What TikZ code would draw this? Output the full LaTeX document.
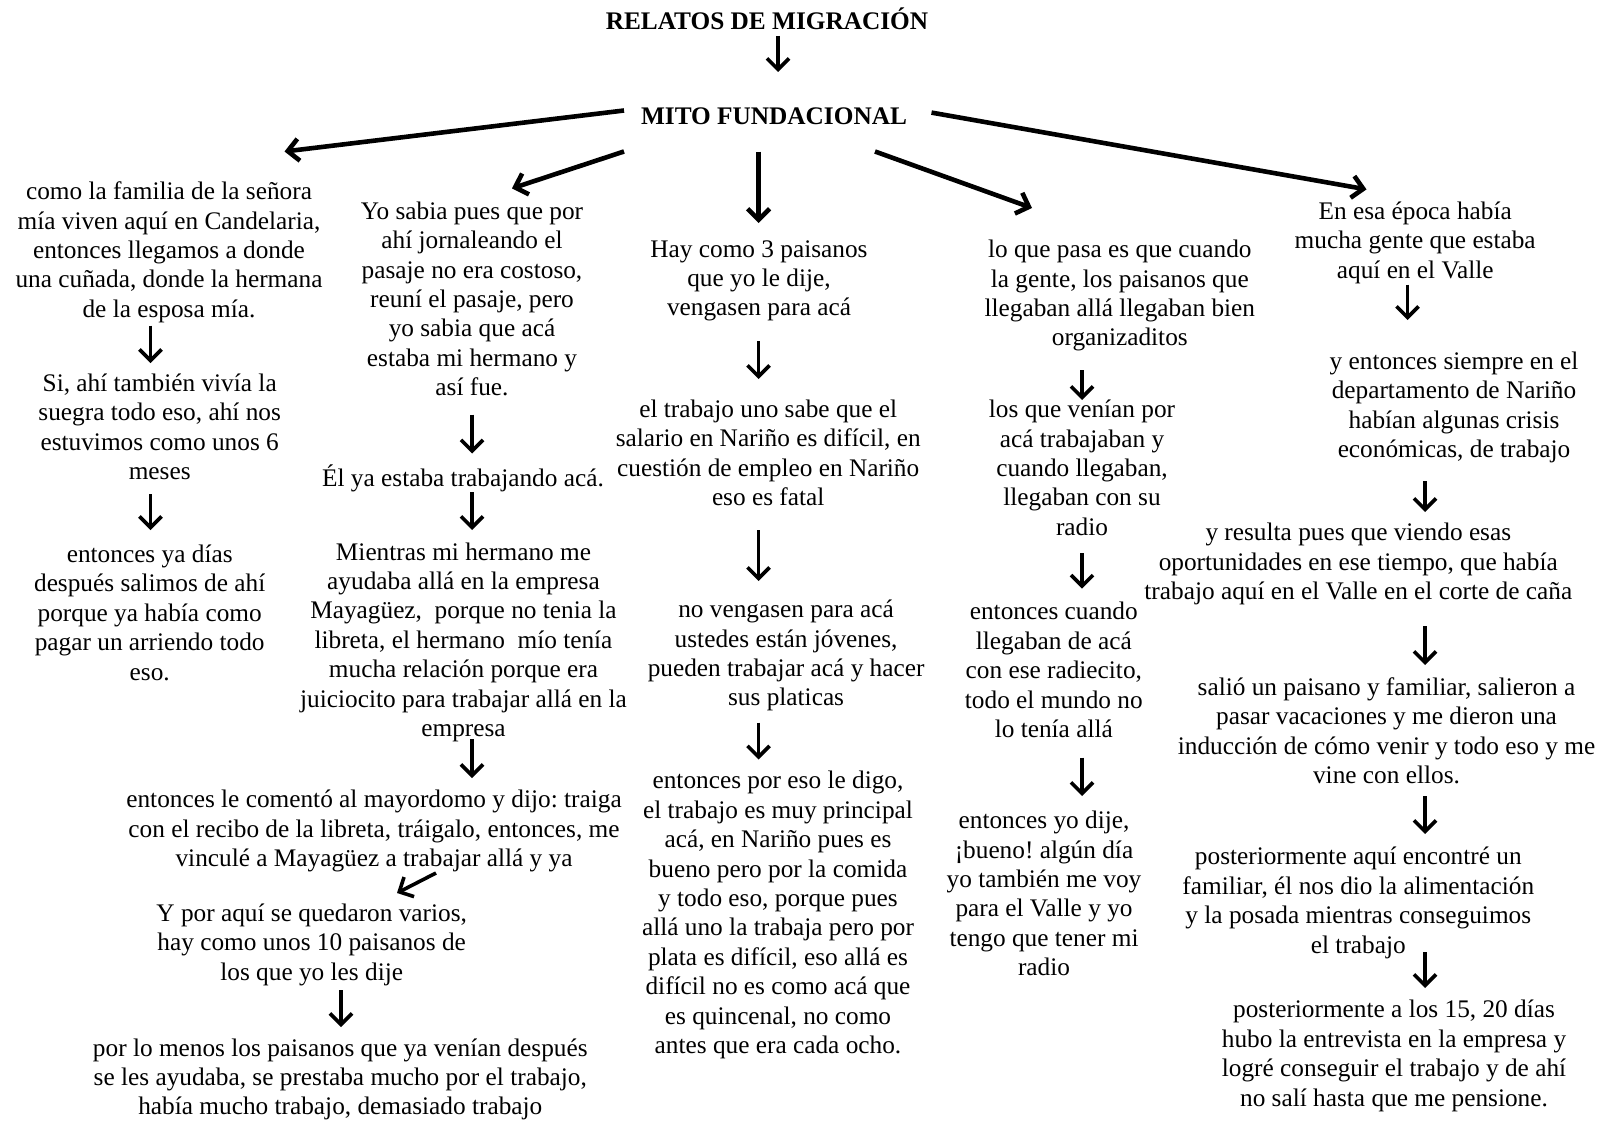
\documentclass[tikz,border=0pt]{standalone}
\usepackage{fontspec}
\setmainfont{Liberation Serif}
\usetikzlibrary{arrows.meta}
\begin{document}
\frenchspacing
\begin{tikzpicture}[x=1pt,y=-1pt,
  txt/.style={inner sep=0pt,align=center,font=\fontsize{25.3}{29.4}\selectfont},
  head/.style={txt,font=\fontsize{25.3}{29.4}\selectfont\bfseries},
  arr/.style={line width=3.6pt,-{Straight Barb[length=11pt,width=22pt]}},
  longarr/.style={arr,line width=4.6pt}]
\fill[white] (0,0) rectangle (1605,1121);
\useasboundingbox (0,0) rectangle (1605,1121);

% headings
\node[head] (T) at (767,19) {RELATOS DE MIGRACIÓN};
\node[head] (M) at (774,116.7) {MITO FUNDACIONAL};

% first column
\node[txt] (c1a) at (169,252.3) {como la familia de la señora\\mía viven aquí en Candelaria,\\entonces llegamos a donde\\una cuñada, donde la hermana\\de la esposa mía.};
\node[txt] (c1b) at (159.7,426.8) {Si, ahí también vivía la\\suegra todo eso, ahí nos\\estuvimos como unos 6\\meses};
\node[txt] (c1c) at (149.7,612.6) {entonces ya días\\después salimos de ahí\\porque ya había como\\pagar un arriendo todo\\eso.};

% second column
\node[txt] (c2a) at (472,298.9) {Yo sabia pues que por\\ahí jornaleando el\\pasaje no era costoso,\\reuní el pasaje, pero\\yo sabia que acá\\estaba mi hermano y\\así fue.};
\node[txt] (c2b) at (463,478) {Él ya estaba trabajando acá.};
\node[txt] (c2c) at (463.5,642.3) {Mientras mi hermano me\\ayudaba allá en la empresa\\Mayagüez,\ \ porque no tenia la\\libreta, el hermano\ \ mío tenía\\mucha relación porque era\\juiciocito para trabajar allá en la\\empresa};
\node[txt] (c2d) at (374,831.2) {entonces le comentó al mayordomo y dijo: traiga\\con el recibo de la libreta, tráigalo, entonces, me\\vinculé a Mayagüez a trabajar allá y ya};
\node[txt] (c2e) at (311.7,944.8) {Y por aquí se quedaron varios,\\hay como unos 10 paisanos de\\los que yo les dije};
\node[txt] (c2f) at (340.3,1079.4) {por lo menos los paisanos que ya venían después\\se les ayudaba, se prestaba mucho por el trabajo,\\había mucho trabajo, demasiado trabajo};

% third column
\node[txt] (c3a) at (759,280.9) {Hay como 3 paisanos\\que yo le dije,\\vengasen para acá};
\node[txt] (c3b) at (768.2,453) {el trabajo uno sabe que el\\salario en Nariño es difícil, en\\cuestión de empleo en Nariño\\eso es fatal};
\node[txt] (c3c) at (786.1,655.6) {no vengasen para acá\\ustedes están jóvenes,\\pueden trabajar acá y hacer\\sus platicas};
\node[txt] (c3d) at (778,915.1) {entonces por eso le digo,\\el trabajo es muy principal\\acá, en Nariño pues es\\bueno pero por la comida\\y todo eso, porque pues\\allá uno la trabaja pero por\\plata es difícil, eso allá es\\difícil no es como acá que\\es quincenal, no como\\antes que era cada ocho.};

% fourth column
\node[txt] (c4a) at (1119.8,295.8) {lo que pasa es que cuando\\la gente, los paisanos que\\llegaban allá llegaban bien\\organizaditos};
\node[txt] (c4b) at (1082,467.8) {los que venían por\\acá trabajaban y\\cuando llegaban,\\llegaban con su\\radio};
\node[txt] (c4c) at (1053.8,670) {entonces cuando\\llegaban de acá\\con ese radiecito,\\todo el mundo no\\lo tenía allá};
\node[txt] (c4d) at (1044,893.6) {entonces yo dije,\\¡bueno! algún día\\yo también me voy\\para el Valle y yo\\tengo que tener mi\\radio};

% fifth column
\node[txt] (c5a) at (1415.2,242.5) {En esa época había\\mucha gente que estaba\\aquí en el Valle};
\node[txt] (c5b) at (1454,407.4) {y entonces siempre en el\\departamento de Nariño\\habían algunas crisis\\económicas, de trabajo};
\node[txt] (c5c) at (1358.3,564) {y resulta pues que viendo esas\\oportunidades en ese tiempo, que había\\trabajo aquí en el Valle en el corte de caña};
\node[txt] (c5d) at (1386.5,730.9) {salió un paisano y familiar, salieron a\\pasar vacaciones y me dieron una\\inducción de cómo venir y todo eso y me\\vine con ellos.};
\node[txt] (c5e) at (1358.3,902.8) {posteriormente aquí encontré un\\familiar, él nos dio la alimentación\\y la posada mientras conseguimos\\el trabajo};
\node[txt] (c5f) at (1394,1055.8) {posteriormente a los 15, 20 días\\hubo la entrevista en la empresa y\\logré conseguir el trabajo y de ahí\\no salí hasta que me pensione.};

% connectors from the headings
\draw[arr] ([shift={(11,17)}]T.center) -- ([shift={(4,-44.7)}]M.center);
\draw[longarr] ([shift={(-150,-6.2)}]M.center) -- ([shift={(115.5,-100.8)}]c1a.center);
\draw[longarr] ([shift={(-150,34.8)}]M.center) -- ([shift={(40,-110.5)}]c2a.center);
\draw[longarr] ([shift={(-15.5,34.8)}]M.center) -- ([shift={(-0.5,-57.9)}]c3a.center);
\draw[longarr] ([shift={(101,34.8)}]M.center) -- ([shift={(-87.8,-87.8)}]c4a.center);
\draw[longarr] ([shift={(157.5,-4.1)}]M.center) -- ([shift={(-48.7,-53.1)}]c5a.center);

% first column
\draw[arr] ([shift={(-18.5,73.2)}]c1a.center) -- ([shift={(-9.2,-63.8)}]c1b.center);
\draw[arr] ([shift={(-9.2,67.2)}]c1b.center) -- ([shift={(0.8,-82.6)}]c1c.center);

% second column
\draw[arr] ([shift={(0,115.6)}]c2a.center) -- ([shift={(9,-24.5)}]c2b.center);
\draw[arr] ([shift={(9,14)}]c2b.center) -- ([shift={(8.5,-112.3)}]c2c.center);
\draw[arr] ([shift={(8.5,96.7)}]c2c.center) -- ([shift={(98,-53.2)}]c2d.center);
\draw[arr] ([shift={(62,41.8)}]c2d.center) -- ([shift={(85.3,-51.8)}]c2e.center);
\draw[arr] ([shift={(29.3,45.2)}]c2e.center) -- ([shift={(0.7,-52.4)}]c2f.center);

% third column
\draw[arr] ([shift={(-0.5,60.1)}]c3a.center) -- ([shift={(-9.7,-74)}]c3b.center);
\draw[arr] ([shift={(-9.7,77)}]c3b.center) -- ([shift={(-27.6,-74.6)}]c3c.center);
\draw[arr] ([shift={(-27.6,67.1)}]c3c.center) -- ([shift={(-19.5,-155.6)}]c3d.center);

% fourth column
\draw[arr] ([shift={(-37.8,74.2)}]c4a.center) -- ([shift={(0,-67.8)}]c4b.center);
\draw[arr] ([shift={(0,85.2)}]c4b.center) -- ([shift={(28.2,-81.4)}]c4c.center);
\draw[arr] ([shift={(28.2,87.5)}]c4c.center) -- ([shift={(38,-97.6)}]c4d.center);

% fifth column
\draw[arr] ([shift={(-7.7,42)}]c5a.center) -- ([shift={(-46.5,-87.4)}]c5b.center);
\draw[arr] ([shift={(-29,73.6)}]c5b.center) -- ([shift={(66.7,-52)}]c5c.center);
\draw[arr] ([shift={(66.7,62)}]c5c.center) -- ([shift={(38.5,-65.9)}]c5d.center);
\draw[arr] ([shift={(38.5,65.1)}]c5d.center) -- ([shift={(66.7,-68.8)}]c5e.center);
\draw[arr] ([shift={(66.7,49.2)}]c5e.center) -- ([shift={(31,-67.8)}]c5f.center);
\end{tikzpicture}
\end{document}
